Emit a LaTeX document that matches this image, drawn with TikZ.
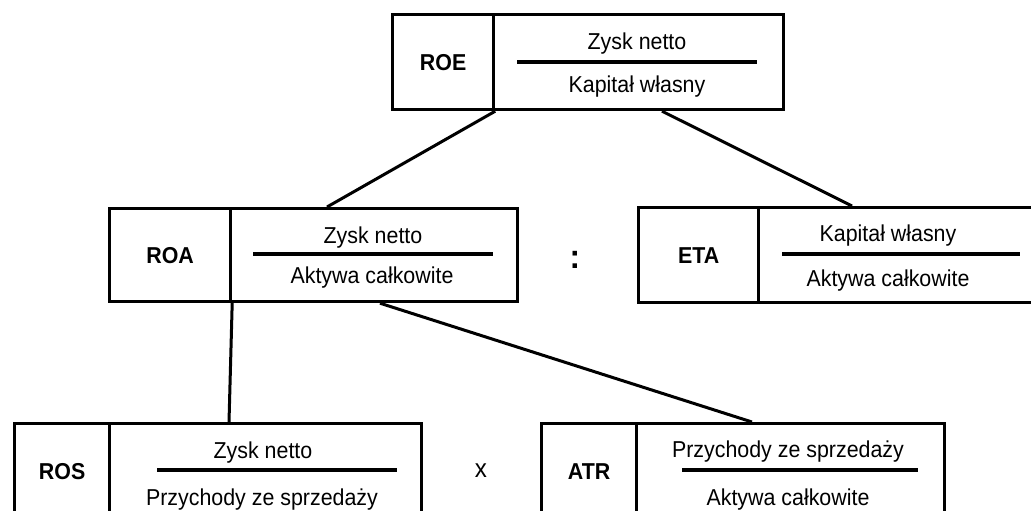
\documentclass[tikz,border=0pt]{standalone}
\usepackage{fontspec}
\setmainfont{Liberation Sans}[FakeStretch=0.93]
\usetikzlibrary{calc}

\begin{document}
\begin{tikzpicture}[x=1pt,y=-1pt,
  frame/.style={draw, line width=3.2pt, rectangle, inner sep=0pt, minimum height=95pt, anchor=north west},
  tag/.style={font=\fontsize{23}{26}\selectfont\bfseries},
  term/.style={font=\fontsize{23}{26}\selectfont, anchor=base, inner sep=0pt},
  bar/.style={line width=3.5pt},
  link/.style={line width=3pt}]
\useasboundingbox (0,0) rectangle (1031,511);
\begin{scope}
\clip (0,0) rectangle (1031,511);

% ROE
\node[frame, tag, minimum width=101pt] (roeL) at (391,13) {ROE};
\node[frame, minimum width=290pt] (roeR) at (492,13) {};
\node[term] (roeN) at (637,49.5) {Zysk netto};
\draw[bar] (517,62) -- (757,62);
\node[term] (roeD) at (637,92.5) {Kapitał własny};

% ROA
\node[frame, tag, minimum width=121pt, minimum height=93pt] (roaL) at (108,207) {ROA};
\node[frame, minimum width=287pt, minimum height=93pt] (roaR) at (229,207) {};
\node[term] (roaN) at (373,243) {Zysk netto};
\draw[bar] (253,254) -- (493,254);
\node[term] (roaD) at (372,283) {Aktywa całkowite};

% ETA
\node[frame, tag, minimum width=120pt] (etaL) at (637,206) {ETA};
\node[frame, minimum width=290pt] (etaR) at (757,206) {};
\node[term] (etaN) at (888,241) {Kapitał własny};
\draw[bar] (782,254) -- (1020,254);
\node[term] (etaD) at (888,286) {Aktywa całkowite};

% ROS
\node[frame, tag, minimum width=95pt] (rosL) at (13,422) {ROS};
\node[frame, minimum width=312pt] (rosR) at (108,422) {};
\node[term] (rosN) at (263,458) {Zysk netto};
\draw[bar] (157,470) -- (397,470);
\node[term] (rosD) at (262,505) {Przychody ze sprzedaży};

% ATR
\node[frame, tag, minimum width=95pt] (atrL) at (540,422) {ATR};
\node[frame, minimum width=308pt] (atrR) at (635,422) {};
\node[term] (atrN) at (788,457) {Przychody ze sprzedaży};
\draw[bar] (682,470) -- (918,470);
\node[term] (atrD) at (788,505) {Aktywa całkowite};

% operators
\node[font=\fontsize{34}{34}\selectfont\bfseries, inner sep=0pt] (colon) at (575,260) {:};
\node[font=\fontsize{26}{28}\selectfont, inner sep=0pt] (times) at (481,471) {x};

% links
\draw[link] (roeL.south east) -- ([xshift=98pt]roaR.north west);
\draw[link] ([xshift=170pt]roeR.south west) -- ([xshift=95pt]etaR.north west);
\draw[link] (roaL.south east) -- ([xshift=121pt]rosR.north west);
\draw[link] ([xshift=151pt]roaR.south west) -- ([xshift=117pt]atrR.north west);
\end{scope}
\end{tikzpicture}
\end{document}
